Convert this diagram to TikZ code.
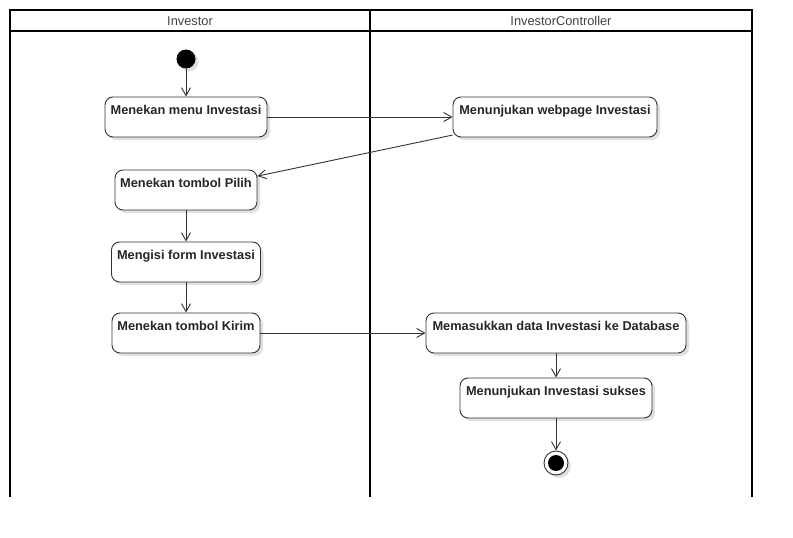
\documentclass[tikz,border=0pt]{standalone}
\usepackage{fontspec}
\setsansfont{Liberation Sans}
\usepackage{tikz}
\usetikzlibrary{arrows.meta}
\usetikzlibrary{shadows}
\definecolor{edgegray}{HTML}{333333}

\begin{document}
\begin{tikzpicture}[x=1pt,y=-1pt,->,>={Straight Barb[length=8pt,width=9pt]},
	action node/.style={draw=edgegray,fill=white,line width=.9pt,rounded corners=8pt,inner xsep=2pt,inner ysep=2pt,text height=15pt,text depth=21pt,minimum height=40pt,font=\sffamily\bfseries\fontsize{12.8}{14}\selectfont,text=black!85,drop shadow={shadow xshift=3pt,shadow yshift=-3pt,fill=black!12,opacity=1}},
	lane/.style={-,line width=2pt},
	lane title/.style={font=\sffamily\fontsize{12.8}{14}\selectfont,text=black!75}]
	
	\useasboundingbox (0,0) rectangle (793,538);
	
	% swimlanes
	\draw[lane] (10,497) -- (10,10) -- (752,10) -- (752,497);
	\draw[lane] (10,31) -- (752,31);
	\draw[lane] (370,10) -- (370,497);
	\node[lane title] (investor) at (190,21) {Investor};
	\node[lane title] (controller) at (561,21) {InvestorController};
	
	\node[circle,fill=black,minimum size=19pt,inner sep=0pt,drop shadow={shadow xshift=3pt,shadow yshift=-3pt,fill=black!12,opacity=1}] (start) at (186,59) {};
	\node[action node,minimum width=162pt] (1) at (186,117) {Menekan menu Investasi};
	\node[action node,minimum width=204pt] (2) at (555,117) {Menunjukan webpage Investasi};
	\node[action node,minimum width=142pt] (3) at (186,190) {Menekan tombol Pilih};
	\node[action node,minimum width=149pt] (4) at (186,262) {Mengisi form Investasi};
	\node[action node,minimum width=148pt] (5) at (186,333) {Menekan tombol Kirim};
	\node[action node,minimum width=260pt] (6) at (556,333) {Memasukkan data Investasi ke Database};
	\node[action node,minimum width=192pt] (7) at (556,398) {Menunjukan Investasi sukses};
	\node[circle,draw=edgegray,fill=white,line width=.9pt,minimum size=24pt,inner sep=0pt,drop shadow={shadow xshift=3pt,shadow yshift=-3pt,fill=black!12,opacity=1},path picture={\fill[black] (path picture bounding box.center) circle (8pt);}] (stop) at (556,463) {};
	
	\path[line width=.9pt,color=edgegray]
	(start) edge (1)
	(1) edge (2)
	(2.190) edge (3.11)
	(3) edge (4)
	(4) edge (5)
	(5) edge (6)
	(6) edge (7)
	(7) edge (stop);
\end{tikzpicture}
\end{document}
